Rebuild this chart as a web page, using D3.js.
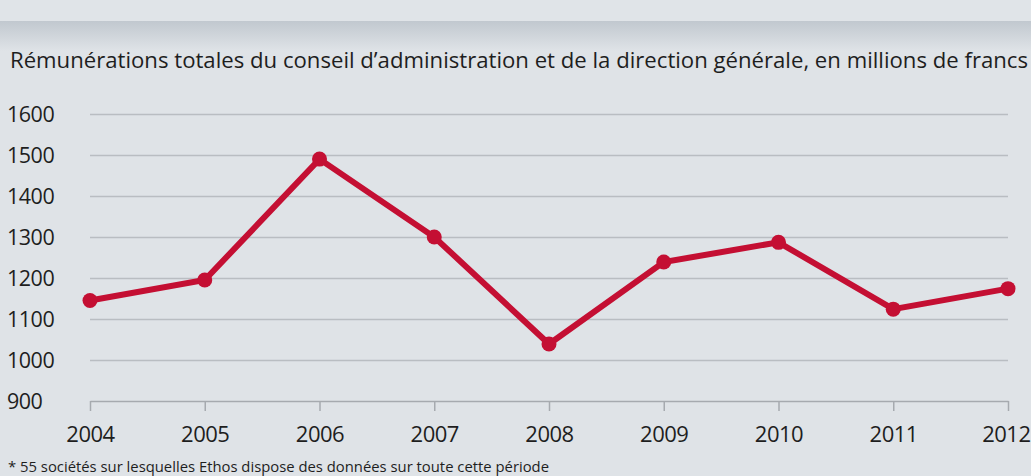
<!DOCTYPE html>
<html><head><meta charset="utf-8">
<script src="https://cdn.jsdelivr.net/npm/d3@7"></script>
<style>
html,body{margin:0;padding:0;background:#dfe3e7;}
svg{display:block;}
text{font-family:"Open Sans","Noto Sans",sans-serif;fill:#1e1e1e;}
</style></head>
<body>
<svg id="chart" width="1031" height="476"></svg>
<script>
const years = [2004,2005,2006,2007,2008,2009,2010,2011,2012];
const values = [1145,1195,1490,1300,1039,1239,1287,1124,1174];
const yTicks = [900,1000,1100,1200,1300,1400,1500,1600];
const title = "Rémunérations totales du conseil d’administration et de la direction générale, en millions de francs";
const footnote = "* 55 sociétés sur lesquelles Ethos dispose des données sur toute cette période";

const W = 1031, H = 476;
const svg = d3.select("#chart");
const defs = svg.append("defs");
const g = defs.append("linearGradient").attr("id","band").attr("x1",0).attr("x2",0).attr("y1",0).attr("y2",1);
g.append("stop").attr("offset","0%").attr("stop-color","#c1c8cf");
g.append("stop").attr("offset","100%").attr("stop-color","#dfe3e7");

svg.append("rect").attr("width",W).attr("height",H).attr("fill","#dfe3e7");
svg.append("rect").attr("width",W).attr("height",21).attr("fill","#e0e4e8");
svg.append("rect").attr("y",21).attr("width",W).attr("height",30).attr("fill","url(#band)");

const x = d3.scalePoint().domain(years).range([90,1008]);
const y = d3.scaleLinear().domain([900,1600]).range([401,114]);

// title
svg.append("text").attr("x",10).attr("y",68).attr("font-size",22)
  .attr("textLength",1018).attr("lengthAdjust","spacingAndGlyphs").text(title);

// gridlines
const grid = svg.append("g").attr("transform","translate(90,0)")
  .call(d3.axisLeft(y).tickValues(yTicks.filter(d=>d>900)).tickSize(-(1008-90)).tickFormat(""));
grid.select(".domain").remove();
grid.selectAll("line").attr("stroke","#b9bdc2").attr("stroke-width",1.6);

// y labels
svg.append("g").selectAll("text").data(yTicks).join("text")
  .attr("x",7).attr("y",d=>y(d)+8).attr("font-size",21.5).attr("letter-spacing","-0.5").text(d=>d);

// x axis
const xa = svg.append("g").attr("transform","translate(0,401)")
  .call(d3.axisBottom(x).tickSize(10).tickSizeOuter(0).tickFormat(d=>d));
xa.select(".domain").attr("stroke","#a6aaaf").attr("stroke-width",1.5);
xa.selectAll(".tick line").attr("stroke","#a6aaaf").attr("stroke-width",1.5);
xa.selectAll(".tick text").attr("font-size",22).attr("y",41).attr("dy",0).attr("fill","#1e1e1e")
  .attr("letter-spacing","-0.5")
  .attr("font-family","'Open Sans','Noto Sans',sans-serif");
xa.selectAll(".tick").filter(d=>d===2012).select("text").attr("text-anchor","end").attr("x",22);

// line
const line = d3.line().x((d,i)=>x(years[i])).y(d=>y(d));
svg.append("path").datum(values).attr("d",line).attr("fill","none")
  .attr("stroke","#c40f33").attr("stroke-width",6).attr("stroke-linejoin","miter");
svg.append("g").selectAll("circle").data(values).join("circle")
  .attr("cx",(d,i)=>x(years[i])).attr("cy",d=>y(d)).attr("r",7.5).attr("fill","#c40f33");

// footnote
svg.append("text").attr("x",8).attr("y",472).attr("font-size",14.5)
  .attr("textLength",541).attr("lengthAdjust","spacingAndGlyphs").text(footnote);
</script>
</body></html>
